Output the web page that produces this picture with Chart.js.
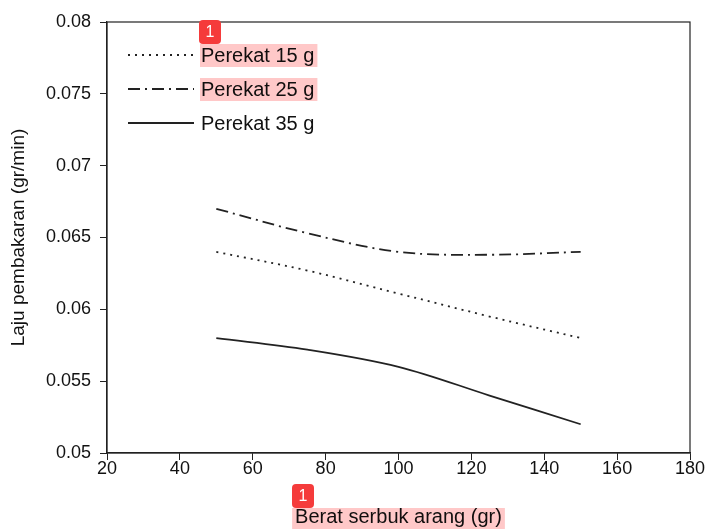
<!DOCTYPE html>
<html>
<head>
<meta charset="utf-8">
<script src="https://cdn.jsdelivr.net/npm/chart.js@4/dist/chart.umd.min.js"></script>
<style>
  html, body { margin: 0; padding: 0; background: #fff; }
  #wrap { width: 708px; height: 529px; }
</style>
</head>
<body>
<div id="wrap"><canvas id="grafik"></canvas></div>
<script>
const beratSerbuk = [50, 75, 100, 125, 150];
const perekat15 = [0.0640, 0.0627, 0.0611, 0.0595, 0.0580];
const perekat25 = [0.0670, 0.0653, 0.0640, 0.0638, 0.0640];
const perekat35 = [0.0580, 0.0572, 0.0560, 0.0540, 0.0520];
const seriesNames = ["Perekat 15 g", "Perekat 25 g", "Perekat 35 g"];
const xTicks = [20, 40, 60, 80, 100, 120, 140, 160, 180];
const yTicks = [0.05, 0.055, 0.06, 0.065, 0.07, 0.075, 0.08];

const FONT = "'Liberation Sans', Arial, Helvetica, sans-serif";

function toPoints(ys) {
  return beratSerbuk.map((x, i) => ({ x: x, y: ys[i] }));
}

// legend inside the plot + frame + the pink highlight marks
const extras = {
  id: "extras",
  afterDraw(chart) {
    const ctx = chart.ctx;
    const a = chart.chartArea;
    ctx.save();
    ctx.strokeStyle = "#222";
    ctx.lineWidth = 1.2;
    ctx.strokeRect(a.left, a.top, a.right - a.left, a.bottom - a.top);

    ctx.font = "20px " + FONT;
    ctx.textBaseline = "middle";
    ctx.textAlign = "left";
    const rows = [55, 89, 123];
    const marks = [];
    chart.data.datasets.forEach((ds, i) => {
      const y = rows[i];
      ctx.beginPath();
      ctx.setLineDash(ds.borderDash || []);
      ctx.strokeStyle = ds.borderColor;
      ctx.lineWidth = ds.borderWidth;
      ctx.moveTo(128, y);
      ctx.lineTo(194, y);
      ctx.stroke();
      ctx.setLineDash([]);
      ctx.fillStyle = "#111";
      ctx.fillText(ds.label, 201, y + 1);
      if (i < 2) {
        const w = ctx.measureText(ds.label).width;
        marks.push([200, y - 11, w + 4, 23]);
      }
    });

    // highlight for x axis title
    const xt = chart.scales.x;
    ctx.font = "20px " + FONT;
    const tw = ctx.measureText(xt.options.title.text).width;
    const cx = (a.left + a.right) / 2;
    marks.push([cx - tw / 2 - 3, 508, tw + 6, 22]);

    ctx.globalCompositeOperation = "multiply";
    ctx.fillStyle = "rgb(255, 200, 200)";
    marks.forEach(m => ctx.fillRect(m[0], m[1], m[2], m[3]));
    ctx.globalCompositeOperation = "source-over";

    // small numbered badges
    const badges = [[199, 20], [292, 484]];
    badges.forEach(b => {
      ctx.fillStyle = "#f53b3b";
      ctx.beginPath();
      ctx.roundRect(b[0], b[1], 22, 24, 4);
      ctx.fill();
      ctx.fillStyle = "#fff";
      ctx.font = "16px " + FONT;
      ctx.textAlign = "center";
      ctx.fillText("1", b[0] + 11, b[1] + 13);
    });
    ctx.restore();
  }
};

new Chart(document.getElementById("grafik").getContext("2d"), {
  type: "line",
  data: {
    datasets: [
      {
        label: seriesNames[0],
        data: toPoints(perekat15),
        borderColor: "#222",
        borderWidth: 1.8,
        borderDash: [2, 5],
      },
      {
        label: seriesNames[1],
        data: toPoints(perekat25),
        borderColor: "#222",
        borderWidth: 1.8,
        borderDash: [12, 5, 2, 5],
      },
      {
        label: seriesNames[2],
        data: toPoints(perekat35),
        borderColor: "#222",
        borderWidth: 1.8,
      },
    ],
  },
  options: {
    responsive: true,
    maintainAspectRatio: false,
    animation: false,
    layout: { padding: { top: 22, right: 18, left: 0, bottom: 0 } },
    elements: {
      point: { radius: 0 },
      line: { tension: 0.35, fill: false },
    },
    plugins: {
      legend: { display: false },
      tooltip: { enabled: false },
    },
    scales: {
      x: {
        type: "linear",
        min: 20,
        max: 180,
        afterBuildTicks: (s) => { s.ticks = xTicks.map(v => ({ value: v })); },
        afterFit: (s) => { s.height = 76; },
        grid: { drawOnChartArea: false, drawTicks: true, tickLength: 7, color: "#222" },
        border: { color: "#222", width: 1.2 },
        ticks: { color: "#111", font: { family: FONT, size: 18 }, padding: -2, maxRotation: 0 },
        title: {
          display: true,
          text: "Berat serbuk arang (gr)",
          color: "#111",
          font: { family: FONT, size: 20 },
          padding: { top: 0, bottom: 0 },
        },
      },
      y: {
        min: 0.05,
        max: 0.08,
        afterBuildTicks: (s) => { s.ticks = yTicks.map(v => ({ value: v })); },
        afterFit: (s) => { s.width = 107; },
        grid: { drawOnChartArea: false, drawTicks: true, tickLength: 7, color: "#222" },
        border: { color: "#222", width: 1.2 },
        ticks: {
          color: "#111",
          font: { family: FONT, size: 18 },
          padding: 9,
          callback: (v) => String(Number(v.toFixed(3))),
        },
        title: {
          display: true,
          text: "Laju pembakaran (gr/min)",
          color: "#111",
          font: { family: FONT, size: 19 },
          padding: { top: 7, bottom: 0 },
        },
      },
    },
  },
  plugins: [extras],
});
</script>
</body>
</html>
